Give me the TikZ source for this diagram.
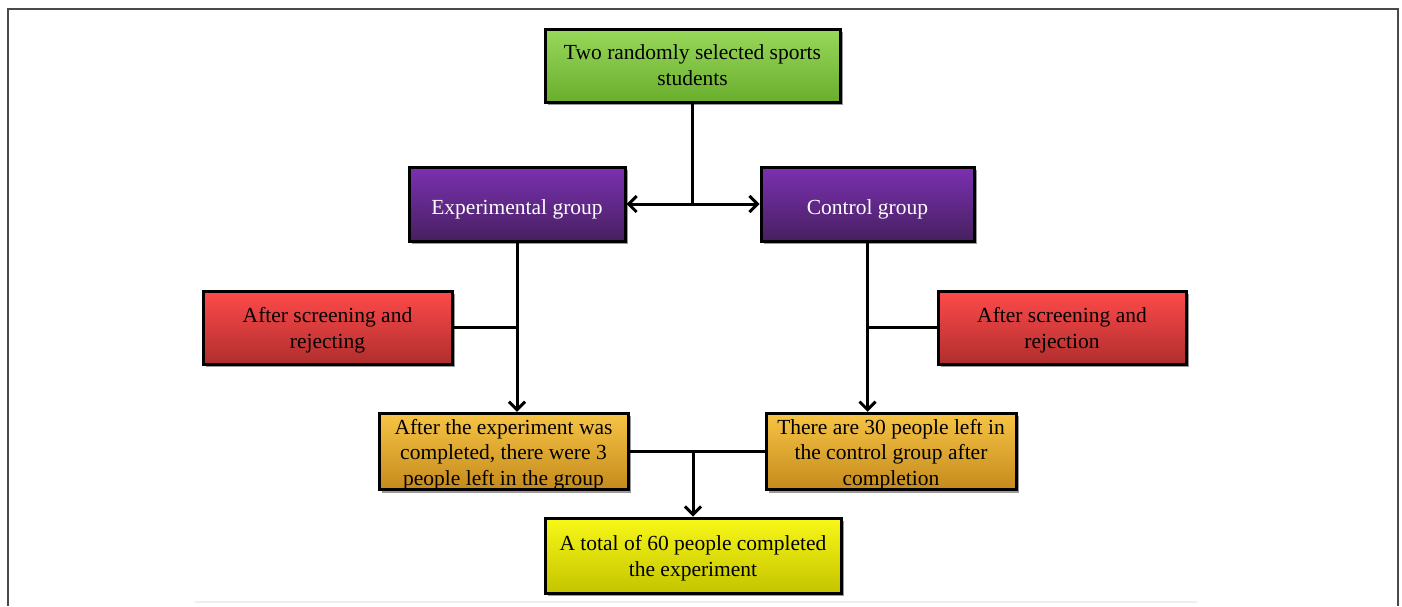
\documentclass[tikz,border=0pt]{standalone}
\usepackage{fontspec}
\setmainfont{Liberation Serif}
\usetikzlibrary{arrows.meta,shadows}
\definecolor{frameC}{HTML}{4A4A4A}
\definecolor{greenT}{HTML}{98D85A}
\definecolor{greenB}{HTML}{6AAE2E}
\definecolor{purpT}{HTML}{7B30B2}
\definecolor{purpM}{HTML}{7030A8}
\definecolor{purpB}{HTML}{47205F}
\definecolor{redT}{HTML}{FF4A4A}
\definecolor{redB}{HTML}{B02E2E}
\definecolor{oraT}{HTML}{F7C445}
\definecolor{oraB}{HTML}{C48A1C}
\definecolor{yelT}{HTML}{F8F818}
\definecolor{yelB}{HTML}{C4C400}
\definecolor{faint}{HTML}{ECEFF2}
\newcommand{\lowtext}[2][-3pt]{\raisebox{#1}[\height][\depth]{\begin{tabular}{@{}c@{}}#2\end{tabular}}}
\tikzset{
  box/.style={draw=black, line width=3pt, align=center, inner sep=0pt,
    font=\fontsize{21.5}{25.5}\selectfont,
    drop shadow={shadow xshift=3pt, shadow yshift=-3pt, opacity=0.5, fill=black!80}},
  greenbox/.style={box, top color=greenT, bottom color=greenB},
  purplebox/.style={box, top color=purpT, middle color=purpM, bottom color=purpB, text=white},
  redbox/.style={box, top color=redT, bottom color=redB},
  orangebox/.style={box, top color=oraT, bottom color=oraB},
  yellowbox/.style={box, top color=yelT, bottom color=yelB},
  link/.style={draw=black, line width=3pt},
  tip/.tip={Straight Barb[length=8pt,width=16pt,line width=3pt]},
  arr/.style={link, -tip},
  dblarr/.style={link, tip-tip}
}
\begin{document}
\begin{tikzpicture}[x=1pt,y=-1pt]
\useasboundingbox (0,0) rectangle (1402,606);
\draw[frameC, line width=2pt] (8,606) -- (8,9) -- (1398,9) -- (1398,606);
\draw[faint, line width=2pt] (195,602) -- (1197,602);

\node[greenbox, minimum width=295pt, minimum height=73pt] (green) at (692.5,65.5) {\lowtext[-2pt]{Two randomly selected sports\\students}};
\node[purplebox, minimum width=216pt, minimum height=74pt] (exp) at (517,204) {\lowtext[-5pt]{Experimental group}};
\node[purplebox, minimum width=213pt, minimum height=74pt] (ctrl) at (867.5,204) {\lowtext[-5pt]{Control group}};
\node[redbox, minimum width=249pt, minimum height=73pt] (redl) at (327.5,327.5) {\lowtext{After screening and\\rejecting}};
\node[redbox, minimum width=248pt, minimum height=73pt] (redr) at (1062,327.5) {\lowtext{After screening and\\rejection}};
\node[orangebox, minimum width=249pt, minimum height=75pt] (oral) at (503.5,451.5) {\lowtext{After the experiment was\\completed, there were 3\\people left in the group}};
\node[orangebox, minimum width=250pt, minimum height=75pt] (orar) at (891,451.5) {\lowtext{There are 30 people left in\\the control group after\\completion}};
\node[yellowbox, minimum width=296pt, minimum height=75pt] (yel) at (693,555.5) {\lowtext[-3pt]{A total of 60 people completed\\the experiment}};

\coordinate (split) at (green.south |- exp.east);
\draw[link] (green.south) -- (split);
\draw[dblarr] (exp.east) -- (ctrl.west);

\draw[arr] (exp.south) -- (exp.south |- oral.north);
\draw[link] (redl.east) -- (redl.east -| exp.south);
\draw[arr] (ctrl.south) -- (ctrl.south |- orar.north);
\draw[link] (redr.west) -- (redr.west -| ctrl.south);

\draw[link] (oral.east) -- (orar.west);
\coordinate (merge) at (yel.north |- oral.east);
\draw[arr] (merge) -- (yel.north);
\end{tikzpicture}
\end{document}
